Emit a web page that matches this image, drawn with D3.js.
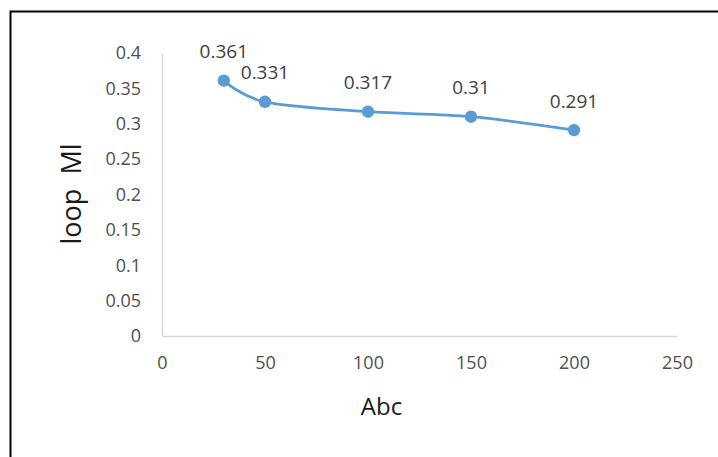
<!DOCTYPE html>
<html><head><meta charset="utf-8">
<script src="https://cdn.jsdelivr.net/npm/d3@7"></script>
<style>body{margin:0;background:#fff}svg{display:block}text{font-family:"Open Sans",sans-serif}</style>
</head><body>
<script>
const xValues = [30, 50, 100, 150, 200];
const yValues = [0.361, 0.331, 0.317, 0.31, 0.291];
const dataLabels = ["0.361", "0.331", "0.317", "0.31", "0.291"];
const xTicks = [0, 50, 100, 150, 200, 250];
const yTicks = [0, 0.05, 0.1, 0.15, 0.2, 0.25, 0.3, 0.35, 0.4];
const xTitle = "Abc";
const yTitle = "loop  Ml";

const W = 718, H = 457;
const m = {left: 162, top: 53, right: 41, bottom: 121};
const svg = d3.select("body").append("svg").attr("width", W).attr("height", H);

// frame border
svg.append("path").attr("d", `M10.5,${H} L10.5,11.5 L${W},11.5`)
  .attr("fill", "none").attr("stroke", "#000").attr("stroke-width", 2);

const x = d3.scaleLinear().domain([0, 250]).range([m.left, W - m.right]);
const y = d3.scaleLinear().domain([0, 0.4]).range([H - m.bottom, m.top]);

const gx = svg.append("g").attr("transform", `translate(0,${y(0)})`)
  .call(d3.axisBottom(x).tickValues(xTicks).tickSize(0).tickPadding(20).tickFormat(d3.format("d")));
const gy = svg.append("g").attr("transform", `translate(${x(0)},0)`)
  .call(d3.axisLeft(y).tickValues(yTicks).tickSize(0).tickPadding(21).tickFormat(d => String(+d.toFixed(2))));
[gx, gy].forEach(g => {
  g.select(".domain").attr("stroke", "#d9d9d9").attr("stroke-width", 1.5);
  g.selectAll("text").attr("fill", "#505050").style("font-size", "18px").attr("font-family", null);
});

const pts = xValues.map((v, i) => [x(v), y(yValues[i])]);
svg.append("path").attr("d", d3.line().curve(d3.curveCardinal.tension(0))(pts))
  .attr("fill", "none").attr("stroke", "#5b9bd5").attr("stroke-width", 2.75);
svg.selectAll("circle.pt").data(pts).join("circle").attr("class", "pt")
  .attr("cx", d => d[0]).attr("cy", d => d[1]).attr("r", 6.2).attr("fill", "#5b9bd5");
svg.selectAll("text.lbl").data(pts).join("text").attr("class", "lbl")
  .attr("x", d => d[0]).attr("y", d => d[1] - 29).attr("dy", "0.35em")
  .attr("text-anchor", "middle").attr("fill", "#404040").style("font-size", "19px")
  .text((d, i) => dataLabels[i]);

svg.append("text").attr("x", (x(0) + x(250)) / 2 - 38).attr("y", 407).attr("dy", "0.35em")
  .attr("text-anchor", "middle").attr("fill", "#1a1a1a").style("font-size", "24px").text(xTitle);
svg.append("text").attr("transform", `translate(72,194) rotate(-90)`).attr("dy", "0.35em")
  .attr("text-anchor", "middle").attr("fill", "#1a1a1a").style("font-size", "27px")
  .style("white-space", "pre").text(yTitle);
</script>
</body></html>
